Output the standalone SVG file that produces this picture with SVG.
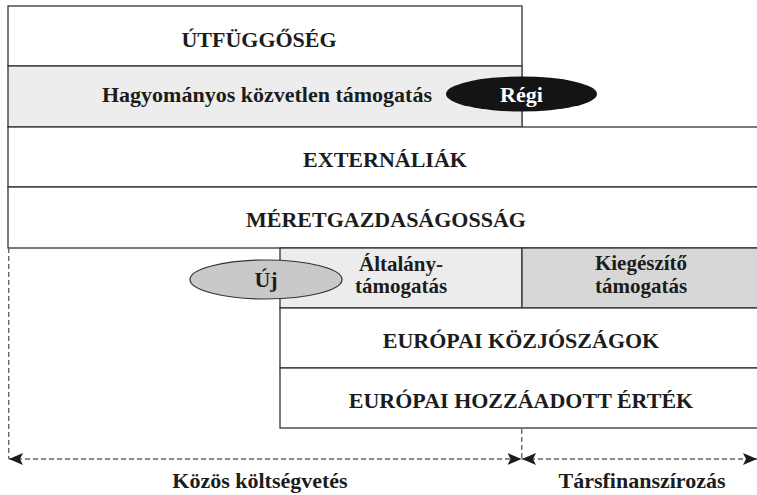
<svg xmlns="http://www.w3.org/2000/svg" width="757" height="495" viewBox="0 0 757 495">
<style>
.box{stroke:#333;stroke-width:1.3;}
.t{font-family:"Liberation Serif","Times New Roman",serif;font-weight:bold;font-size:22px;fill:#1c1c1c;text-anchor:middle;}
.s{font-size:21px;}
.dash{fill:none;stroke:#666;stroke-width:1.4;stroke-dasharray:5,3;}
</style>
<defs>
<marker id="ah" viewBox="0 0 14 12" markerWidth="14" markerHeight="12" refX="14" refY="6" orient="auto-start-reverse" markerUnits="userSpaceOnUse">
<path d="M0,0 L14,6 L0,12 L3,6 z" fill="#1c1c1c"/>
</marker>
</defs>
<rect x="0" y="0" width="757" height="495" fill="#fff"/>
<g id="utfuggoseg">
<rect class="box" x="8" y="6" width="514" height="60" fill="#fff"/>
<path d="M522,6 V127" stroke="#777" stroke-width="1.3" fill="none"/>
<text class="t" x="259" y="47">ÚTFÜGGŐSÉG</text>
</g>
<g id="hagyomanyos">
<rect class="box" x="8" y="66" width="514" height="61" fill="#ededed"/>
<text class="t" x="267" y="102">Hagyományos közvetlen támogatás</text>
</g>
<g id="externaliak">
<rect class="box" x="8" y="127" width="760" height="60" fill="#fff"/>
<text class="t" x="385" y="167">EXTERNÁLIÁK</text>
</g>
<g id="meretgazdasagossag">
<rect class="box" x="8" y="187" width="760" height="61" fill="#fff"/>
<text class="t" x="386" y="227">MÉRETGAZDASÁGOSSÁG</text>
</g>
<g id="altalany">
<rect class="box" x="280" y="248" width="242" height="60" fill="#ececec"/>
<text class="t s" x="401" y="271">Általány-</text>
<text class="t s" x="401" y="293">támogatás</text>
</g>
<g id="kiegeszito">
<rect class="box" x="522" y="248" width="246" height="60" fill="#d7d7d7"/>
<text class="t s" x="641" y="270">Kiegészítő</text>
<text class="t s" x="641" y="293">támogatás</text>
</g>
<g id="kozjosagok">
<rect class="box" x="280" y="308" width="488" height="60" fill="#fff"/>
<text class="t" x="521" y="348">EURÓPAI KÖZJÓSZÁGOK</text>
</g>
<g id="hozzaadott">
<rect class="box" x="280" y="368" width="488" height="60" fill="#fff"/>
<text class="t" x="521" y="408">EURÓPAI HOZZÁADOTT ÉRTÉK</text>
</g>
<g id="regi">
<ellipse cx="521.5" cy="94" rx="75.5" ry="17.5" fill="#141414"/>
<text class="t" x="521.5" y="102" style="fill:#fff">Régi</text>
</g>
<g id="uj">
<ellipse cx="266" cy="279.5" rx="76" ry="19.5" fill="#c9c9c9" stroke="#333" stroke-width="1.2"/>
<text class="t" x="266" y="287">Új</text>
</g>
<g id="connectors">
<path class="dash" d="M8.7,248 V459"/>
<path class="dash" d="M521.7,429 V459"/>
<line class="dash" x1="9" y1="459" x2="521.5" y2="459" marker-start="url(#ah)" marker-end="url(#ah)"/>
<line class="dash" x1="522" y1="459" x2="757" y2="459" marker-start="url(#ah)" marker-end="url(#ah)"/>
</g>
<g id="labels">
<text class="t" x="260" y="488">Közös költségvetés</text>
<text class="t" x="642" y="488">Társfinanszírozás</text>
</g>
</svg>
